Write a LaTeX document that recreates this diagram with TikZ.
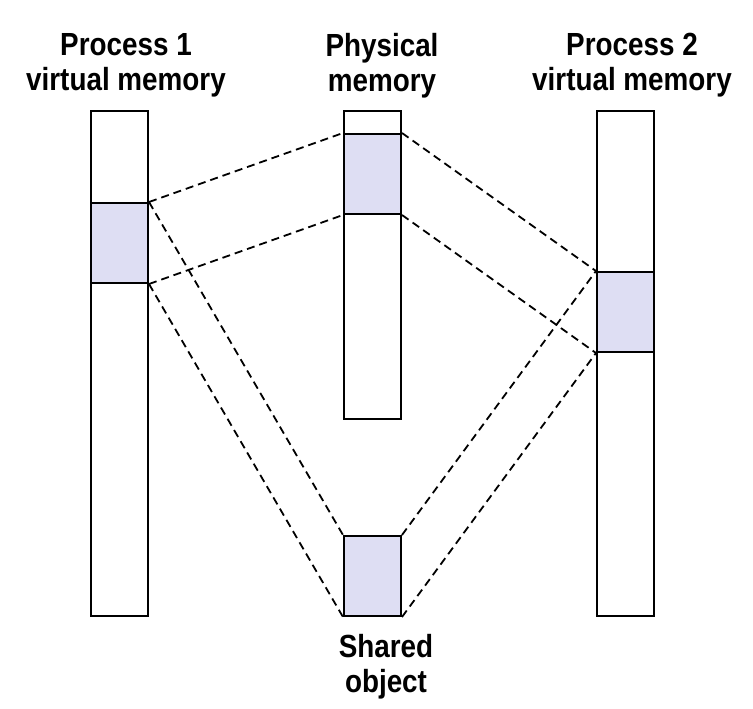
\documentclass[tikz,border=0pt]{standalone}
\usepackage{fontspec}
\setmainfont[FakeStretch=0.87]{Liberation Sans}
\definecolor{pageshade}{RGB}{222,222,243}
\begin{document}
\begin{tikzpicture}[x=1pt,y=-1pt,
  membar/.style={draw=black,line width=2pt,fill=white,inner sep=0pt,
    minimum width=57pt,anchor=north west},
  pagebox/.style={draw=black,line width=2pt,fill=pageshade,inner sep=0pt,
    minimum width=57pt,minimum height=80pt,anchor=north west},
  mapline/.style={draw=black,line width=1.8pt,dash pattern=on 8pt off 5pt},
  caption/.style={inner sep=0pt,align=center,anchor=north,
    font=\bfseries\fontsize{32}{35}\selectfont}
]
\useasboundingbox (0,0) rectangle (753,709);

% memory columns
\node[membar,minimum height=505pt] (vm1) at (90,110) {};
\node[membar,minimum height=308pt] (phys) at (343,110) {};
\node[membar,minimum height=505pt] (vm2) at (596,110) {};

% mapped pages
\node[pagebox] (vm1page) at (90,202) {};
\node[pagebox] (physpage) at (343,133) {};
\node[pagebox] (vm2page) at (596,271) {};
\node[pagebox] (shared) at (343,535) {};

% captions
\node[caption] (t1) at (126,33) {Process 1\\virtual memory};
\node[caption] (t2) at (382,33) {Physical\\memory};
\node[caption] (t3) at (632,33) {Process 2\\virtual memory};
\node[caption] (t4) at (386,634) {Shared\\object};

% mappings: process 1
\draw[mapline] (vm1page.north east) -- (physpage.north west);
\draw[mapline] (vm1page.south east) -- (physpage.south west);
\draw[mapline] (vm1page.north east) -- (shared.north west);
\draw[mapline] (vm1page.south east) -- (shared.south west);

% mappings: process 2
\draw[mapline] (physpage.north east) -- (vm2page.north west);
\draw[mapline] (physpage.south east) -- (vm2page.south west);
\draw[mapline] (shared.north east) -- (vm2page.north west);
\draw[mapline] (shared.south east) -- (vm2page.south west);
\end{tikzpicture}
\end{document}
